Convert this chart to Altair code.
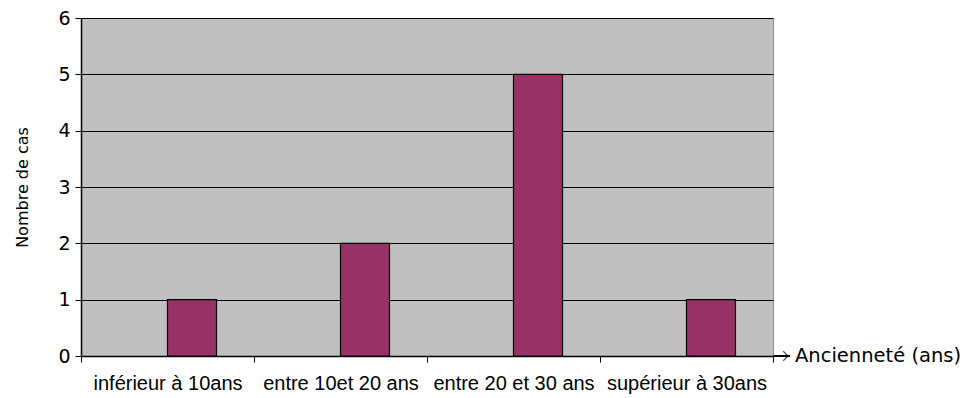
import altair as alt
import pandas as pd

# Nombre de cas par tranche d'ancienneté
categories = ["inférieur à 10ans", "entre 10et 20 ans", "entre 20 et 30 ans", "supérieur à 30ans"]
counts = [1, 2, 5, 1]

df = pd.DataFrame({"categorie": categories, "cas": counts})

W, H = 692, 338
BAR_W = 49

x_enc = alt.X(
    "categorie:N",
    sort=categories,
    title=None,
    scale=alt.Scale(paddingInner=0, paddingOuter=0),
    axis=alt.Axis(
        labelAngle=0,
        labelFont="Liberation Sans",
        labelFontSize=20,
        labelColor="black",
        labelPadding=11,
        labelLimit=220,
        tickBand="extent",
        tickColor="black",
        tickSize=6,
        domainColor="black",
        domainWidth=1.5,
        grid=False,
    ),
)

bars = alt.Chart(df).mark_bar(
    color="#993366",
    stroke="black",
    strokeWidth=1.2,
    width=BAR_W,
    xOffset=BAR_W / 2,
).encode(
    x=x_enc,
    y=alt.Y(
        "cas:Q",
        title="Nombre de cas",
        scale=alt.Scale(domain=[0, 6], nice=False),
        axis=alt.Axis(
            values=[0, 1, 2, 3, 4, 5, 6],
            format="d",
            labelFont="DejaVu Sans",
            labelFontSize=19,
            labelColor="black",
            labelPadding=5,
            tickColor="black",
            tickSize=6,
            domainColor="black",
            domainWidth=1.5,
            grid=True,
            gridColor="black",
            gridWidth=1.2,
            titleFont="DejaVu Sans",
            titleFontSize=16,
            titleFontWeight="normal",
            titleColor="black",
            titlePadding=27,
        ),
    ),
)

# Flèche au bout de l'axe horizontal et son libellé
arrow_line = alt.Chart(df).mark_rule(color="black", strokeWidth=1.2).encode(
    x=alt.value(W), x2=alt.value(W + 17), y=alt.value(H)
)
arrow_head = alt.Chart(pd.DataFrame({"t": ["Ancienneté (ans)"]})).mark_point(
    shape="M -1 -1 L 0 0 L -1 1",
    filled=False,
    stroke="black",
    strokeWidth=1.2,
    size=90,
).encode(x=alt.value(W + 15), y=alt.value(H))
arrow_label = alt.Chart(pd.DataFrame({"t": ["Ancienneté (ans)"]})).mark_text(
    align="left",
    baseline="middle",
    font="DejaVu Sans",
    fontSize=19.5,
    color="black",
).encode(x=alt.value(W + 22), y=alt.value(H), text="t:N")

chart = (
    alt.layer(bars, arrow_line, arrow_head, arrow_label)
    .properties(
        width=W,
        height=H,
        autosize=alt.AutoSizeParams(type="none"),
        padding={"left": 81, "top": 18, "right": 195, "bottom": 42},
        background="white",
    )
    .configure_view(fill="#C0C0C0", stroke="#909090", strokeWidth=1)
)

chart.save("out.html", embed_options={"renderer": "svg", "actions": False})
